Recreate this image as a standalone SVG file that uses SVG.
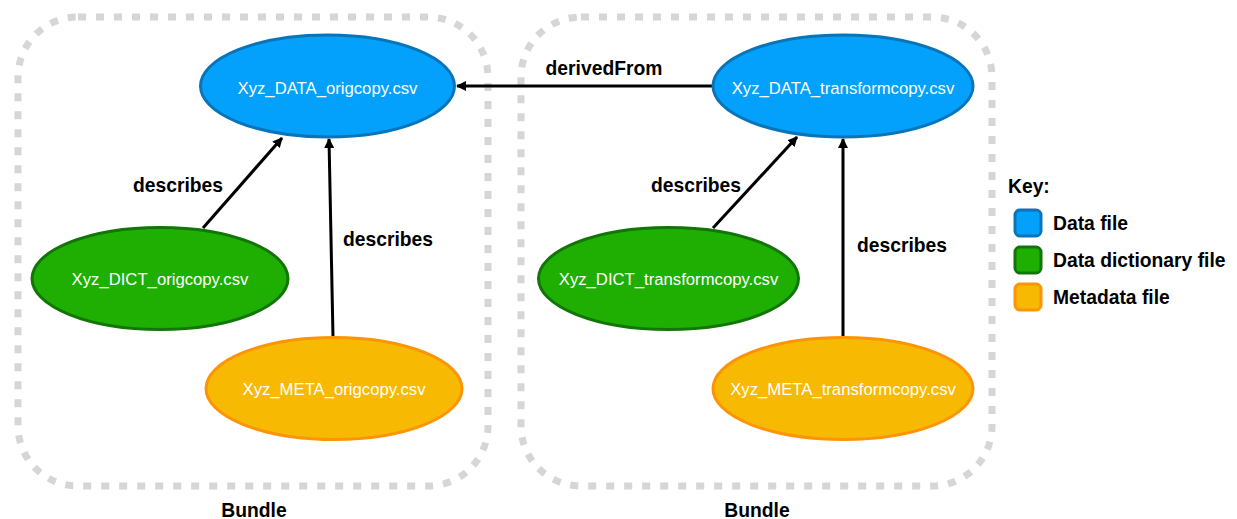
<svg xmlns="http://www.w3.org/2000/svg" width="1237" height="519" viewBox="0 0 1237 519">
<style>
.bundle{fill:none;stroke:#d6d6d6;stroke-width:7;stroke-dasharray:8 10}
.nt{font-family:"Liberation Sans",Arial,sans-serif;font-size:16.7px;fill:#fff;text-anchor:middle;dominant-baseline:central}
.lbl{font-family:"Liberation Sans",Arial,sans-serif;font-size:19.3px;font-weight:bold;fill:#000}
.data{fill:#03a1fc;stroke:#0a74b8;stroke-width:3}
.dict{fill:#1faf02;stroke:#127508;stroke-width:3}
.meta{fill:#f8b902;stroke:#fd9406;stroke-width:3}
.edge{stroke:#000;stroke-width:3;fill:none;marker-end:url(#ah)}
</style>
<defs>
<marker id="ah" markerWidth="10" markerHeight="10" refX="9" refY="5" orient="auto" markerUnits="userSpaceOnUse" viewBox="0 0 10 10">
<path d="M0,0 L10,5 L0,10 Z" fill="#000"/>
</marker>
</defs>
<rect width="1237" height="519" fill="#fff"/>
<g id="bundle1">
<rect class="bundle" x="18" y="17" width="470" height="469" rx="60"/>
<text class="lbl" x="254" y="517" text-anchor="middle">Bundle</text>
</g>
<g id="bundle2">
<rect class="bundle" x="521" y="17" width="471" height="469" rx="60"/>
<text class="lbl" x="757" y="517" text-anchor="middle">Bundle</text>
</g>
<g id="connectors">
<line class="edge" x1="713" y1="86" x2="457" y2="86"/>
<text class="lbl" x="604" y="75" text-anchor="middle">derivedFrom</text>
<line class="edge" x1="203" y1="228" x2="282" y2="138"/>
<text class="lbl" x="178" y="192" text-anchor="middle">describes</text>
<line class="edge" x1="333" y1="337" x2="329" y2="139"/>
<text class="lbl" x="388" y="246" text-anchor="middle">describes</text>
<line class="edge" x1="713" y1="228" x2="797" y2="137"/>
<text class="lbl" x="696" y="192" text-anchor="middle">describes</text>
<line class="edge" x1="843" y1="337" x2="843" y2="139"/>
<text class="lbl" x="902" y="252" text-anchor="middle">describes</text>
</g>
<g id="data_orig">
<ellipse class="data" cx="327.5" cy="86" rx="127" ry="51"/>
<text class="nt" x="327.5" y="88">Xyz_DATA_origcopy.csv</text>
</g>
<g id="data_transform">
<ellipse class="data" cx="843" cy="86" rx="130" ry="51"/>
<text class="nt" x="843" y="88">Xyz_DATA_transformcopy.csv</text>
</g>
<g id="dict_orig">
<ellipse class="dict" cx="160" cy="278.5" rx="128" ry="51"/>
<text class="nt" x="160" y="279">Xyz_DICT_origcopy.csv</text>
</g>
<g id="meta_orig">
<ellipse class="meta" cx="334" cy="388.5" rx="128" ry="51"/>
<text class="nt" x="334" y="389">Xyz_META_origcopy.csv</text>
</g>
<g id="dict_transform">
<ellipse class="dict" cx="668.5" cy="278.5" rx="130" ry="51"/>
<text class="nt" x="668.5" y="279">Xyz_DICT_transformcopy.csv</text>
</g>
<g id="meta_transform">
<ellipse class="meta" cx="843" cy="388.5" rx="130" ry="51"/>
<text class="nt" x="843" y="389">Xyz_META_transformcopy.csv</text>
</g>
<g id="key">
<text class="lbl" x="1008" y="193">Key:</text>
<rect class="data" x="1015" y="210" width="26" height="26" rx="5"/>
<text class="lbl" x="1053" y="230">Data file</text>
<rect class="dict" x="1015" y="247" width="26" height="26" rx="5"/>
<text class="lbl" x="1053" y="267">Data dictionary file</text>
<rect class="meta" x="1015" y="284" width="26" height="26" rx="5"/>
<text class="lbl" x="1053" y="304">Metadata file</text>
</g>
</svg>
